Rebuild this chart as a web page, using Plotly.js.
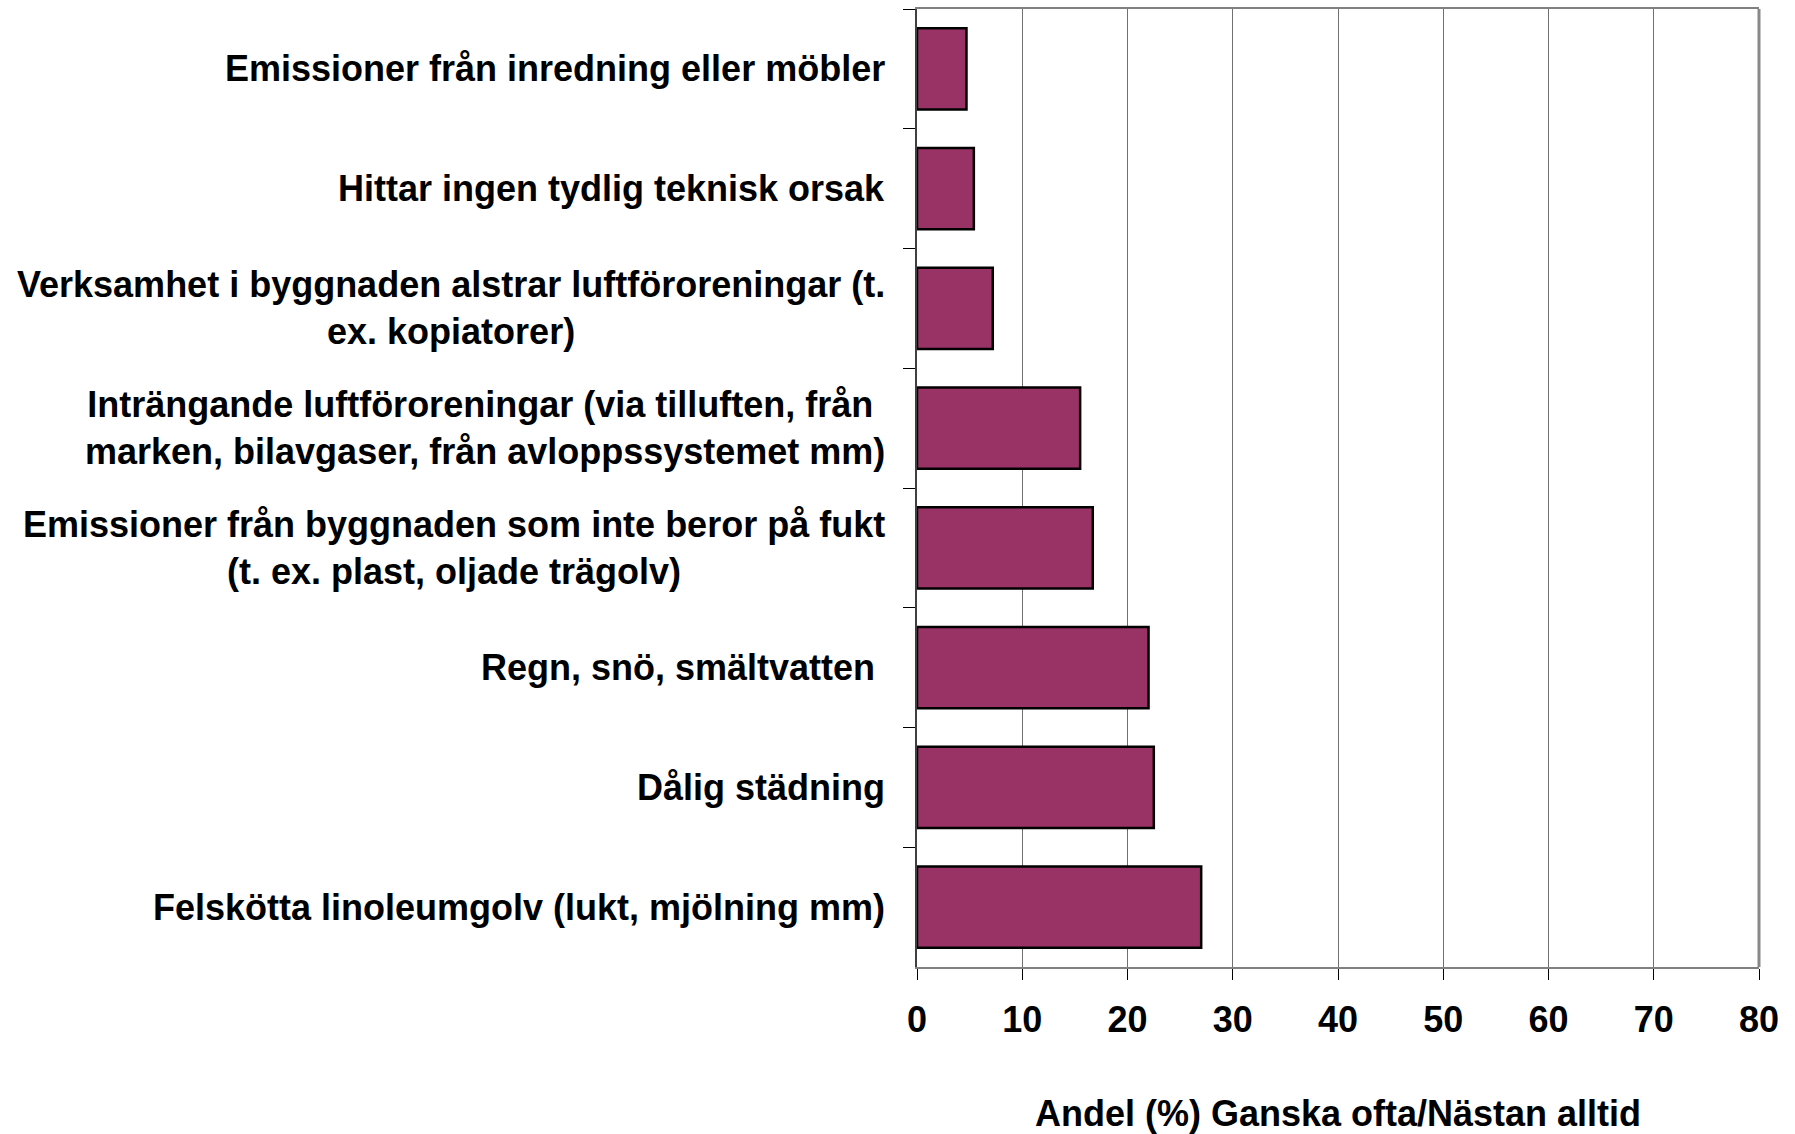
<!DOCTYPE html>
<html>
<head>
<meta charset="utf-8">
<script src="https://cdn.plot.ly/plotly-3.0.1.min.js"></script>
<style>html,body{margin:0;padding:0;background:#fff;}#chart{width:1795px;height:1134px;}</style>
</head>
<body>
<div id="chart"></div>
<script>
// Categories, top to bottom
const categories = [
  "Emissioner från inredning eller möbler",
  "Hittar ingen tydlig teknisk orsak",
  "Verksamhet i byggnaden alstrar luftföroreningar (t.<br>ex. kopiatorer)",
  "Inträngande luftföroreningar (via tilluften, från <br>marken, bilavgaser, från avloppssystemet mm)",
  "Emissioner från byggnaden som inte beror på fukt<br>(t. ex. plast, oljade trägolv)",
  "Regn, snö, smältvatten\u00a0",
  "Dålig städning",
  "Felskötta linoleumgolv (lukt, mjölning mm)"
];
const values = [4.7, 5.4, 7.2, 15.5, 16.7, 22.0, 22.5, 27.0];
const xTickValues = [0, 10, 20, 30, 40, 50, 60, 70, 80];
const xTitle = "Andel (%) Ganska ofta/Nästan alltid";

const FONT = 'Arial, "Liberation Sans", sans-serif';

const trace = {
  type: 'bar',
  orientation: 'h',
  y: categories,
  x: values,
  marker: {color: '#993366', line: {color: '#000000', width: 2.5}},
  hoverinfo: 'none'
};

const annotations = categories.map(c => ({
  xref: 'paper', x: 0, xanchor: 'right', xshift: -30,
  yref: 'y', y: c, yanchor: 'middle',
  text: c, align: 'center', showarrow: false,
  font: {family: FONT, size: 36, color: '#000', weight: 'bold'}
}));

const layout = {
  width: 1795, height: 1134,
  margin: {l: 917, r: 36, t: 9, b: 167, pad: 0},
  paper_bgcolor: '#ffffff', plot_bgcolor: '#ffffff',
  showlegend: false,
  bargap: 0.32,
  font: {family: FONT, color: '#000'},
  xaxis: {
    range: [0, 80], tickvals: xTickValues, ticktext: xTickValues.map(String),
    showgrid: true, gridcolor: '#707070', gridwidth: 1,
    zeroline: false,
    showline: true, linecolor: '#808080', linewidth: 2, mirror: true,
    ticks: 'outside', ticklen: 11, tickcolor: '#000', tickwidth: 1,
    tickfont: {family: FONT, size: 36, color: '#000', weight: 'bold'},
    ticklabelstandoff: 9,
    title: {text: xTitle, font: {family: FONT, size: 36, color: '#000', weight: 'bold'}, standoff: 62},
    fixedrange: true
  },
  yaxis: {
    type: 'category', autorange: 'reversed',
    showticklabels: false,
    tickson: 'boundaries', ticks: 'outside', ticklen: 12, tickcolor: '#000', tickwidth: 1,
    showgrid: false, zeroline: false,
    showline: true, linecolor: '#404040', linewidth: 2,
    fixedrange: true
  },
  shapes: [
    {type: 'line', xref: 'paper', yref: 'paper', x0: 1, x1: 1, y0: 0, y1: 1,
     line: {color: '#888888', width: 3}}
  ],
  annotations: annotations
};

Plotly.newPlot('chart', [trace], layout, {displayModeBar: false, staticPlot: true});
</script>
</body>
</html>
